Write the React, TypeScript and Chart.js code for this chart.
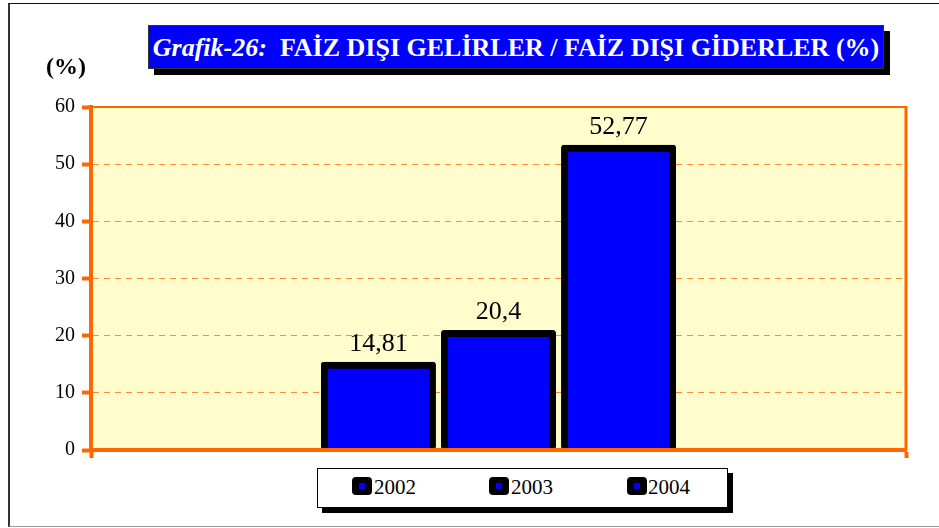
import React, { useEffect, useRef } from "react";
import { Chart, registerables } from "chart.js";

Chart.register(...registerables);

const years = ["2002", "2003", "2004"];
const values = [14.81, 20.4, 52.77];
const valueLabels = ["14,81", "20,4", "52,77"];
const yTicks = [0, 10, 20, 30, 40, 50, 60];
const titleItalic = "Grafik-26:";
const titleMain = "FAİZ DIŞI GELİRLER / FAİZ DIŞI GİDERLER (%)";
const unitLabel = "(%)";

const ORANGE = "#FF6600";
const SERIF = "'Liberation Serif', 'Times New Roman', serif";

const bgPlugin = {
  id: "bgPlugin",
  beforeDraw(chart: any) {
    const { ctx, chartArea: a } = chart;
    ctx.save();
    ctx.fillStyle = "#FFFDCC";
    ctx.fillRect(a.left, a.top, a.right - a.left, a.bottom - a.top);
    ctx.restore();
  },
  afterDraw(chart: any) {
    const { ctx, chartArea: a } = chart;
    ctx.save();
    ctx.strokeStyle = ORANGE;
    ctx.lineWidth = 2;
    ctx.beginPath();
    ctx.moveTo(a.left, a.top);
    ctx.lineTo(a.right, a.top);
    ctx.stroke();
    ctx.lineWidth = 3;
    ctx.beginPath();
    ctx.moveTo(a.right, a.top - 1);
    ctx.lineTo(a.right, a.bottom);
    ctx.stroke();
    ctx.restore();
  },
};

const labelPlugin = {
  id: "labelPlugin",
  afterDatasetsDraw(chart: any) {
    const { ctx, chartArea: a } = chart;
    ctx.save();
    // redraw the category axis line above the bars
    ctx.strokeStyle = ORANGE;
    ctx.lineWidth = 4;
    ctx.beginPath();
    ctx.moveTo(a.left - 2, a.bottom);
    ctx.lineTo(a.right + 1, a.bottom);
    ctx.stroke();

    ctx.font = `26px ${SERIF}`;
    ctx.fillStyle = "#000";
    ctx.textAlign = "center";
    ctx.textBaseline = "alphabetic";
    chart.data.datasets.forEach((ds: any, i: number) => {
      const meta = chart.getDatasetMeta(i);
      meta.data.forEach((el: any) => {
        ctx.fillText(valueLabels[i], el.x, el.y - 14);
      });
    });
    ctx.restore();
  },
};

export default function App() {
  const ref = useRef<HTMLCanvasElement | null>(null);

  useEffect(() => {
    if (!ref.current) return;
    const chart = new Chart(ref.current, {
      type: "bar",
      data: {
        labels: [""],
        datasets: years.map((y, i) => ({
          label: y,
          data: [values[i]],
          backgroundColor: "#0000FF",
          borderColor: "#000000",
          borderWidth: { top: 7, left: 7, right: 7, bottom: 0 },
          borderRadius: 3,
          borderSkipped: false,
          inflateAmount: 3.5,
          categoryPercentage: 0.442,
          barPercentage: 0.9,
        })),
      },
      options: {
        animation: false,
        responsive: true,
        maintainAspectRatio: false,
        layout: { padding: { top: 107, right: 33, left: 0, bottom: 0 } },
        plugins: {
          legend: { display: false },
          tooltip: { enabled: false },
          title: { display: false },
        },
        scales: {
          x: {
            type: "category",
            offset: true,
            grid: {
              offset: true,
              drawOnChartArea: false,
              tickColor: ORANGE,
              tickWidth: 4,
              tickLength: 8,
            },
            ticks: { display: false },
            border: { color: ORANGE, width: 4 },
            afterFit: (s: any) => {
              s.height = 78;
            },
          },
          y: {
            min: 0,
            max: 60,
            afterBuildTicks: (s: any) => {
              s.ticks = yTicks.map((v) => ({ value: v }));
            },
            ticks: {
              font: { family: SERIF, size: 20 },
              color: "#000",
              padding: 7,
            },
            grid: {
              color: "#FF8A3D",
              lineWidth: 1,
              tickColor: ORANGE,
              tickWidth: 4,
              tickLength: 9,
            },
            border: { color: ORANGE, width: 4, dash: [6, 5] },
            afterFit: (s: any) => {
              s.width = 91;
            },
          },
        },
      },
      plugins: [bgPlugin, labelPlugin],
    });
    return () => chart.destroy();
  }, []);

  const legendItems = [
    { marker: 352, text: 374 },
    { marker: 489, text: 511 },
    { marker: 627, text: 648 },
  ];

  return (
    <div
      style={{
        position: "absolute",
        left: 0,
        top: 0,
        width: 939,
        height: 528,
        background: "#fff",
        overflow: "hidden",
        fontFamily: SERIF,
      }}
    >
      <div
        style={{
          position: "absolute",
          left: 8,
          top: 3,
          width: 940,
          height: 522,
          borderLeft: "2px solid #333",
          borderTop: "1px solid #111",
          borderBottom: "1px solid #999",
        }}
      />
      <div style={{ position: "absolute", left: 0, top: 0, width: 939, height: 528 }}>
        <canvas ref={ref} />
      </div>
      {/* Title */}
      <div
        style={{
          position: "absolute",
          left: 154,
          top: 31,
          width: 736,
          height: 44,
          background: "#000",
        }}
      />
      <div
        style={{
          position: "absolute",
          left: 148,
          top: 25,
          width: 736,
          height: 44,
          background: "#0000FF",
          border: "1px solid #333",
          boxSizing: "border-box",
          color: "#fff",
          fontWeight: "bold",
          fontSize: 26,
          lineHeight: "44px",
          whiteSpace: "nowrap",
          textAlign: "center",
        }}
      >
        <span style={{ fontStyle: "italic" }}>{titleItalic}</span>
        <span>{"\u00a0\u00a0" + titleMain}</span>
      </div>
      {/* unit label */}
      <div
        style={{
          position: "absolute",
          left: 46,
          top: 53,
          fontWeight: "bold",
          fontSize: 24,
          color: "#000",
        }}
      >
        {unitLabel}
      </div>
      {/* Legend */}
      <div
        style={{
          position: "absolute",
          left: 322,
          top: 473,
          width: 411,
          height: 40,
          background: "#000",
        }}
      />
      <div
        style={{
          position: "absolute",
          left: 317,
          top: 468,
          width: 411,
          height: 40,
          background: "#fff",
          border: "1px solid #000",
          boxSizing: "border-box",
        }}
      />
      {years.map((y, i) => (
        <React.Fragment key={y}>
          <div
            style={{
              position: "absolute",
              left: legendItems[i].marker,
              top: 477,
              width: 20,
              height: 18,
              background: "#000",
              borderRadius: 4,
            }}
          >
            <div
              style={{
                position: "absolute",
                left: 7,
                top: 6,
                width: 6,
                height: 6,
                background: "#0000FF",
              }}
            />
          </div>
          <div
            style={{
              position: "absolute",
              left: legendItems[i].text,
              top: 475,
              fontSize: 21,
              lineHeight: "24px",
              color: "#000",
            }}
          >
            {y}
          </div>
        </React.Fragment>
      ))}
    </div>
  );
}
